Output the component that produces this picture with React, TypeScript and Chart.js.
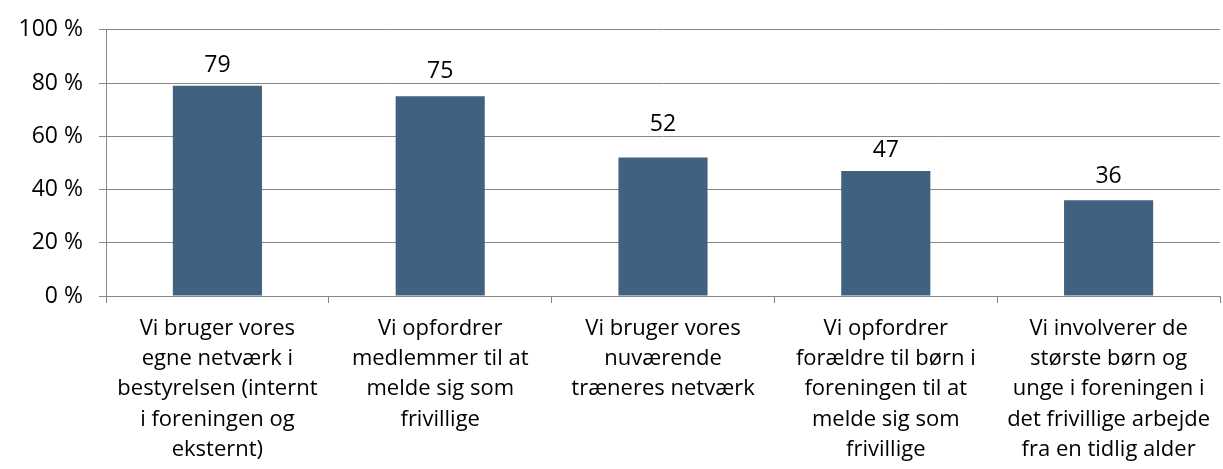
import React, { useEffect, useRef } from "react";
import { Chart, registerables } from "chart.js";

Chart.register(...registerables);

const categories: string[][] = [
  ["Vi bruger vores", "egne netværk i", "bestyrelsen (internt", "i foreningen og", "eksternt)"],
  ["Vi opfordrer", "medlemmer til at", "melde sig som", "frivillige"],
  ["Vi bruger vores", "nuværende", "træneres netværk"],
  ["Vi opfordrer", "forældre til børn i", "foreningen til at", "melde sig som", "frivillige"],
  ["Vi involverer de", "største børn og", "unge i foreningen i", "det frivillige arbejde", "fra en tidlig alder"],
];
const values: number[] = [79, 75, 52, 47, 36];
const yTicks: number[] = [0, 20, 40, 60, 80, 100];

const BAR = "#40617F";
const GRID = "#888888";
const FONT = "'Open Sans'";
// gap (px) between the bar top and the value label's baseline, as in the original layout
const LABEL_GAPS = [14, 18, 27, 14, 17];

const labelPlugin = {
  id: "valueLabels",
  afterDatasetsDraw(chart: any) {
    const ctx = chart.ctx;
    const meta = chart.getDatasetMeta(0);
    ctx.save();
    ctx.fillStyle = "#000000";
    ctx.font = `23px ${FONT}`;
    ctx.textAlign = "center";
    ctx.textBaseline = "alphabetic";
    meta.data.forEach((el: any, i: number) => {
      ctx.fillText(String(values[i]), el.x, el.y - LABEL_GAPS[i]);
    });
    ctx.restore();
  },
};

export default function App() {
  const ref = useRef<HTMLCanvasElement>(null);
  useEffect(() => {
    if (!ref.current) return;
    const chart = new Chart(ref.current, {
      type: "bar",
      data: {
        labels: categories,
        datasets: [
          {
            data: values,
            backgroundColor: BAR,
            borderWidth: 0,
            barPercentage: 0.4,
            categoryPercentage: 1,
          },
        ],
      },
      options: {
        animation: false,
        responsive: false,
        maintainAspectRatio: false,
        layout: { padding: { left: 0, right: 3, top: 24, bottom: 0 } },
        plugins: { legend: { display: false }, tooltip: { enabled: false } },
        scales: {
          x: {
            grid: {
              offset: true,
              drawOnChartArea: false,
              drawTicks: true,
              tickLength: 7,
              color: GRID,
              lineWidth: 1,
            },
            border: { color: GRID, width: 1 },
            ticks: {
              color: "#000000",
              font: { family: FONT, size: 22, lineHeight: 1.385 },
              padding: 10,
              maxRotation: 0,
              autoSkip: false,
            },
            afterFit: (s: any) => {
              s.height = 173;
            },
          },
          y: {
            min: 0,
            max: 100,
            afterBuildTicks: (s: any) => {
              s.ticks = yTicks.map((v) => ({ value: v }));
            },
            grid: { color: GRID, lineWidth: 1, tickLength: 7, drawTicks: true },
            border: { color: GRID, width: 1 },
            ticks: {
              color: "#000000",
              font: { family: FONT, size: 23 },
              padding: 16,
              callback: (v: any) => `${v} %`,
            },
            afterFit: (s: any) => {
              s.width = 106;
            },
          },
        },
      },
      plugins: [labelPlugin],
    });
    return () => chart.destroy();
  }, []);
  return (
    <div style={{ position: "absolute", left: 0, top: 0, width: 1223, height: 469, background: "#fff" }}>
      <canvas ref={ref} width={1223} height={469} style={{ display: "block" }} />
    </div>
  );
}
